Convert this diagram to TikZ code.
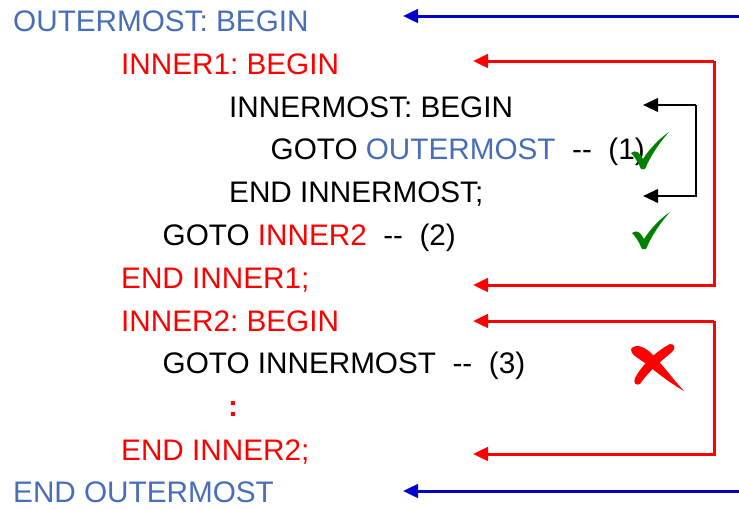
\documentclass[tikz,border=0pt]{standalone}
\usepackage{fontspec}
\setmainfont{Liberation Sans}
\usetikzlibrary{arrows.meta}
\definecolor{obl}{RGB}{72,110,185}
\definecolor{ablue}{RGB}{0,0,200}
\definecolor{ared}{RGB}{255,0,0}
\definecolor{chkgreen}{RGB}{0,128,0}
\frenchspacing
\tikzset{
  txt/.style={anchor=base west, inner sep=0pt, font=\fontsize{29.7}{30}\selectfont},
  tip/.style={-{Triangle[length=15pt,width=13.5pt]}},
  bluearr/.style={tip, draw=ablue, line width=3pt},
  redarr/.style={tip, draw=ared, line width=3pt},
  blackarr/.style={tip, draw=black, line width=2.4pt},
  chk/.pic={\fill[chkgreen] (-12,-15) .. controls (-7,-19) and (-3,-15) .. (0,-9)
      .. controls (7,-20) and (17,-30) .. (26,-36)
      .. controls (17,-26) and (8,-13) .. (2,1) -- (-2,1)
      .. controls (-5,-6) and (-8,-11) .. cycle;}
}
\begin{document}
\begin{tikzpicture}[x=1pt,y=-1pt]
\useasboundingbox[fill=white] (0,0) rectangle (739,509);
% text lines
\node[txt, text=obl] (l1) at (13,31.3) {OUTERMOST: BEGIN};
\node[txt, text=ared] (l2) at (121,74.3) {INNER1: BEGIN};
\node[txt] (l3) at (229,117.3) {INNERMOST: BEGIN};
\node[txt] (l4) at (270.5,159.5) {GOTO \textcolor{obl}{OUTERMOST}\ \ -{}-\ \ (1)};
\node[txt] (l5) at (229,202.7) {END INNERMOST;};
\node[txt] (l6) at (162.5,245) {GOTO \textcolor{ared}{INNER2}\ \ -{}-\ \ (2)};
\node[txt, text=ared] (l7) at (121,288.3) {END INNER1;};
\node[txt, text=ared] (l8) at (121,331) {INNER2: BEGIN};
\node[txt] (l9) at (162.5,373.5) {GOTO INNERMOST\ \ -{}-\ \ (3)};
\node[txt, text=ared] (l10) at (228,416.7) {\bfseries :};
\node[txt, text=ared] (l11) at (121,460) {END INNER2;};
\node[txt, text=obl] (l12) at (13,502.7) {END OUTERMOST};
% connector endpoints
\coordinate (b1s) at (739,16);  \coordinate (b1e) at (403,16);
\coordinate (b2s) at (739,491); \coordinate (b2e) at (403,491);
\coordinate (r1a) at (473,61);  \coordinate (r1c) at (714,61);
\coordinate (r1d) at (714,285); \coordinate (r1b) at (473,285);
\coordinate (r2a) at (473,321); \coordinate (r2c) at (714,321);
\coordinate (r2d) at (714,454); \coordinate (r2b) at (473,454);
\coordinate (k1a) at (643,105); \coordinate (k1c) at (696,105);
\coordinate (k1d) at (696,196); \coordinate (k1b) at (643,196);
% arrows
\draw[bluearr] (b1s) -- (b1e);
\draw[bluearr] (b2s) -- (b2e);
\draw[redarr] (r1c) -- (r1a);
\draw[redarr] (r1c) -- (r1d) -- (r1b);
\draw[redarr] (r2c) -- (r2a);
\draw[redarr] (r2c) -- (r2d) -- (r2b);
\draw[blackarr] (k1c) -- (k1a);
\draw[blackarr] (k1c) -- (k1d) -- (k1b);
% check marks
\pic at (643,168) {chk};
\pic at (644,248) {chk};
% red cross
\fill[ared] (631,349) .. controls (636,343) and (645,347) .. (652,354)
  .. controls (662,364) and (672,378) .. (684,391)
  .. controls (670,383) and (656,372) .. (645,363)
  .. controls (638,358) and (630,354) .. cycle;
\fill[ared] (670,344) .. controls (675,344) and (676,348) .. (672,352)
  .. controls (660,362) and (648,372) .. (640,384)
  .. controls (636,386) and (633,383) .. (635,378)
  .. controls (642,365) and (655,352) .. cycle;
\end{tikzpicture}
\end{document}
